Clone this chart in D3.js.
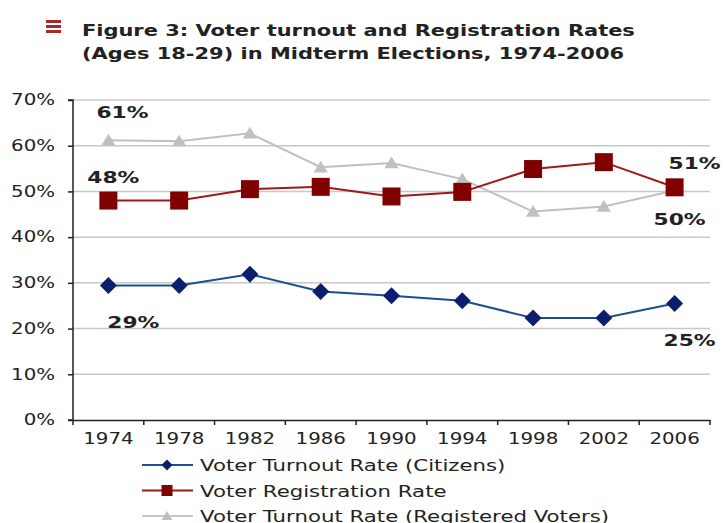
<!DOCTYPE html>
<html><head><meta charset="utf-8">
<script src="https://cdn.jsdelivr.net/npm/d3@7"></script>
<style>body{margin:0;background:#fff}svg{display:block}</style>
</head><body>
<svg id="c" width="723" height="523"></svg>
<script>
const years = ["1974","1978","1982","1986","1990","1994","1998","2002","2006"];
const turnoutCitizens = [29.4, 29.4, 31.9, 28.1, 27.2, 26.1, 22.3, 22.3, 25.5];
const registration = [48.0, 48.0, 50.5, 51.0, 48.9, 49.9, 54.9, 56.4, 50.9];
const turnoutRegistered = [61.2, 61.0, 62.7, 55.3, 56.2, 52.7, 45.6, 46.7, 50.2];
const yTicks = [0,10,20,30,40,50,60,70];
const seriesNames = ["Voter Turnout Rate (Citizens)","Voter Registration Rate","Voter Turnout Rate (Registered Voters)"];
const titleLines = ["Figure 3: Voter turnout and Registration Rates","(Ages 18-29) in Midterm Elections, 1974-2006"];
const annotations = [
  {text:"61%", year:"1974", value:61.2},
  {text:"48%", year:"1974", value:48.0},
  {text:"29%", year:"1974", value:29.4},
  {text:"51%", year:"2006", value:50.9},
  {text:"50%", year:"2006", value:50.2},
  {text:"25%", year:"2006", value:25.5}
];

const svg = d3.select("#c");
const L = 73, R = 710, T = 100, B = 420;
const SX = 1.32;
const x = d3.scaleBand().domain(years).range([L, R]);
const y = d3.scaleLinear().domain([0,70]).range([B, T]);
const font = "'DejaVu Sans', Verdana, sans-serif";
function stretch(sel, sx){
  sel.each(function(){
    const t = d3.select(this);
    const tx = +t.attr("x")||0, ty = +t.attr("y")||0;
    t.attr("transform",`translate(${tx},${ty}) scale(${sx},1) translate(${-tx},${-ty})`);
  });
}

// title
const icon = svg.append("g");
[0,1,2].forEach(i => icon.append("rect").attr("x",46).attr("y",20+i*5).attr("width",15).attr("height",3).attr("fill","#a52a2a"));
svg.append("g").selectAll("text").data(titleLines).join("text")
  .attr("x",82).attr("y",(d,i)=>36+i*23).attr("font-family",font).attr("font-weight","bold").attr("font-size",16.5).attr("fill","#222")
  .text(d=>d).call(stretch,1.27);

// grid
svg.append("g").selectAll("line").data(yTicks.filter(d=>d>0)).join("line")
  .attr("x1",L).attr("x2",R).attr("y1",d=>y(d)).attr("y2",d=>y(d))
  .attr("stroke","#c8c8c8").attr("stroke-width",1.5);

// axes
const yAxis = svg.append("g").attr("transform",`translate(${L},0)`)
  .call(d3.axisLeft(y).tickValues(yTicks).tickFormat(d=>d+"%").tickSize(5).tickPadding(8.6));
const xAxis = svg.append("g").attr("transform",`translate(0,${B})`)
  .call(d3.axisBottom(x).tickSize(0).tickPadding(13));
[yAxis,xAxis].forEach(a=>{
  a.select(".domain").attr("stroke","#222").attr("stroke-width",1.5);
  a.selectAll("text").attr("font-family",font).attr("font-size",15).attr("fill","#222").attr("transform",`scale(${SX},1)`);
  a.selectAll(".tick line").attr("stroke","#222").attr("stroke-width",1.5);
});
yAxis.select(".domain").attr("d",`M-5,${T}H0V${B}H-5`);
// x boundary ticks
svg.append("g").selectAll("line").data(d3.range(years.length+1)).join("line")
  .attr("x1",i=>L+i*x.step()).attr("x2",i=>L+i*x.step()).attr("y1",B).attr("y2",B+5)
  .attr("stroke","#222").attr("stroke-width",1.5);

const cx = d => x(d)+x.bandwidth()/2;
const line = d3.line().x((d,i)=>cx(years[i])).y(d=>y(d));
const diamond = r => `M0,${-r}L${r},0L0,${r}L${-r},0Z`;
const square = r => `M${-r},${-r}H${r}V${r}H${-r}Z`;
const triangle = r => `M0,${-r}L${r*1.1},${r*0.8}H${-r*1.1}Z`;

const series = [
  {vals:turnoutRegistered, lc:"#c0c0c0", mc:"#c0c0c0", shape:triangle, r:6.5},
  {vals:registration, lc:"#a01818", mc:"#800000", shape:square, r:9},
  {vals:turnoutCitizens, lc:"#1f4e8c", mc:"#0a1f6e", shape:diamond, r:8.5}
];
series.forEach(s=>{
  svg.append("path").datum(s.vals).attr("d",line).attr("fill","none").attr("stroke",s.lc).attr("stroke-width",2);
  svg.append("g").selectAll("path").data(s.vals).join("path")
    .attr("transform",(d,i)=>`translate(${cx(years[i])},${y(d)})`)
    .attr("d",s.shape(s.r)).attr("fill",s.mc);
});

// annotations
const offs = {"61%":[-12,-22],"48%":[-21,-18],"29%":[-1,42],"51%":[-6,-18],"50%":[-21,34],"25%":[-11,43]};
svg.append("g").selectAll("text").data(annotations).join("text")
  .attr("x",d=>cx(d.year)+offs[d.text][0]).attr("y",d=>y(d.value)+offs[d.text][1])
  .attr("text-anchor","start").attr("font-family",font).attr("font-weight","bold").attr("font-size",16).attr("fill","#222")
  .text(d=>d.text).call(stretch,1.36);

// legend
const leg = [
  {name:seriesNames[0], lc:"#1f4e8c", mc:"#0a1f6e", shape:diamond, r:5.5},
  {name:seriesNames[1], lc:"#a01818", mc:"#800000", shape:square, r:5.5},
  {name:seriesNames[2], lc:"#c8c8c8", mc:"#c0c0c0", shape:triangle, r:5}
];
const lg = svg.append("g").selectAll("g").data(leg).join("g").attr("transform",(d,i)=>`translate(0,${465+i*25.5})`);
lg.append("line").attr("x1",142).attr("x2",193).attr("stroke",d=>d.lc).attr("stroke-width",2);
lg.append("path").attr("transform","translate(167,0)").attr("d",d=>d.shape(d.r)).attr("fill",d=>d.mc);
lg.append("text").attr("x",200).attr("y",6).attr("font-family",font).attr("font-size",16).attr("fill","#222").text(d=>d.name).call(stretch,1.33);
</script>
</body></html>
